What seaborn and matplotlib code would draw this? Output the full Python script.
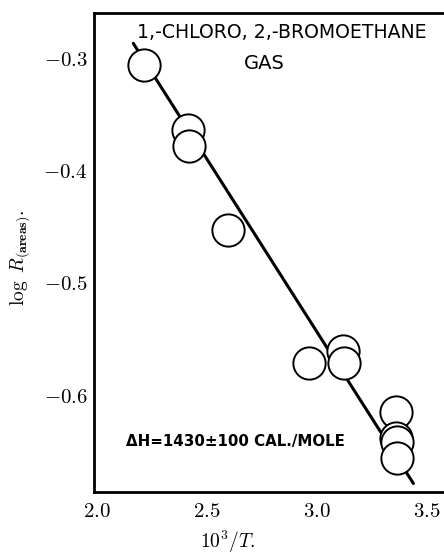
import matplotlib
matplotlib.use("Agg")
import matplotlib.pyplot as plt
import seaborn as sns
import pandas as pd

# data
inv_T = [2.215, 2.417, 2.421, 2.598, 2.966, 3.121, 3.125, 3.360, 3.362, 3.363, 3.363]
log_R = [-0.305, -0.363, -0.378, -0.453, -0.571, -0.561, -0.571, -0.615, -0.638, -0.642, -0.656]
fit_x = [2.166, 3.439]
fit_y = [-0.286, -0.679]
x_ticks = [2.0, 2.5, 3.0, 3.5]
x_tick_labels = ["2.0", "2.5", "3.0", "3.5"]
y_ticks = [-0.3, -0.4, -0.5, -0.6]
y_tick_labels = [r"$-0.3$", r"$-0.4$", r"$-0.5$", r"$-0.6$"]

sns.set_theme(style="white")
plt.rcParams["mathtext.fontset"] = "cm"
plt.rcParams["font.family"] = ["DejaVu Serif"]

pts = pd.DataFrame({"x": inv_T, "y": log_R})
fit = pd.DataFrame({"x": fit_x, "y": fit_y})

fig = plt.figure(figsize=(4.44, 5.54), dpi=100)
ax = fig.add_axes([0.2128, 0.1119, 0.7917, 0.8652])

sns.lineplot(data=fit, x="x", y="y", ax=ax, color="black", linewidth=2.2, zorder=2)
sns.scatterplot(data=pts, x="x", y="y", ax=ax, s=540, facecolor="white",
                edgecolor="black", linewidth=1.4, zorder=3)

ax.set_xlim(1.99, 3.587)
ax.set_ylim(-0.6866, -0.2587)
ax.set_xticks(x_ticks)
ax.set_xticklabels([r"$%s$" % t for t in x_tick_labels])
ax.set_yticks(y_ticks)
ax.set_yticklabels(y_tick_labels)
ax.tick_params(axis="both", direction="in", length=9, width=1.5, color="black",
               labelsize=15, labelcolor="black")
ax.tick_params(axis="x", pad=7)
ax.tick_params(axis="y", pad=5)

for side in ["left", "bottom", "top"]:
    ax.spines[side].set_visible(True)
    ax.spines[side].set_color("black")
    ax.spines[side].set_linewidth(2.0)
ax.spines["right"].set_visible(False)

ax.set_xlabel(r"$10^3/T.$", fontsize=14, color="black")
ax.xaxis.set_label_coords(0.379, -0.076)
ax.set_ylabel(r"$\log\ R_{(\mathbf{areas})}.$", fontsize=14, color="black")
ax.yaxis.set_label_coords(-0.177, 0.488)

sans = ["DejaVu Sans"]
ax.text(0.12, 0.958, "1,-CHLORO, 2,-BROMOETHANE", transform=ax.transAxes,
        ha="left", va="center", fontsize=13.6, family=sans, color="black")
ax.text(0.484, 0.893, "GAS", transform=ax.transAxes,
        ha="center", va="center", fontsize=14, family=sans, color="black")
ax.text(0.091, 0.106, "ΔH=1430±100 CAL./MOLE", transform=ax.transAxes,
        ha="left", va="center", fontsize=10.8, family=sans, weight="bold", color="black")

fig.savefig("out.png", dpi=100)
